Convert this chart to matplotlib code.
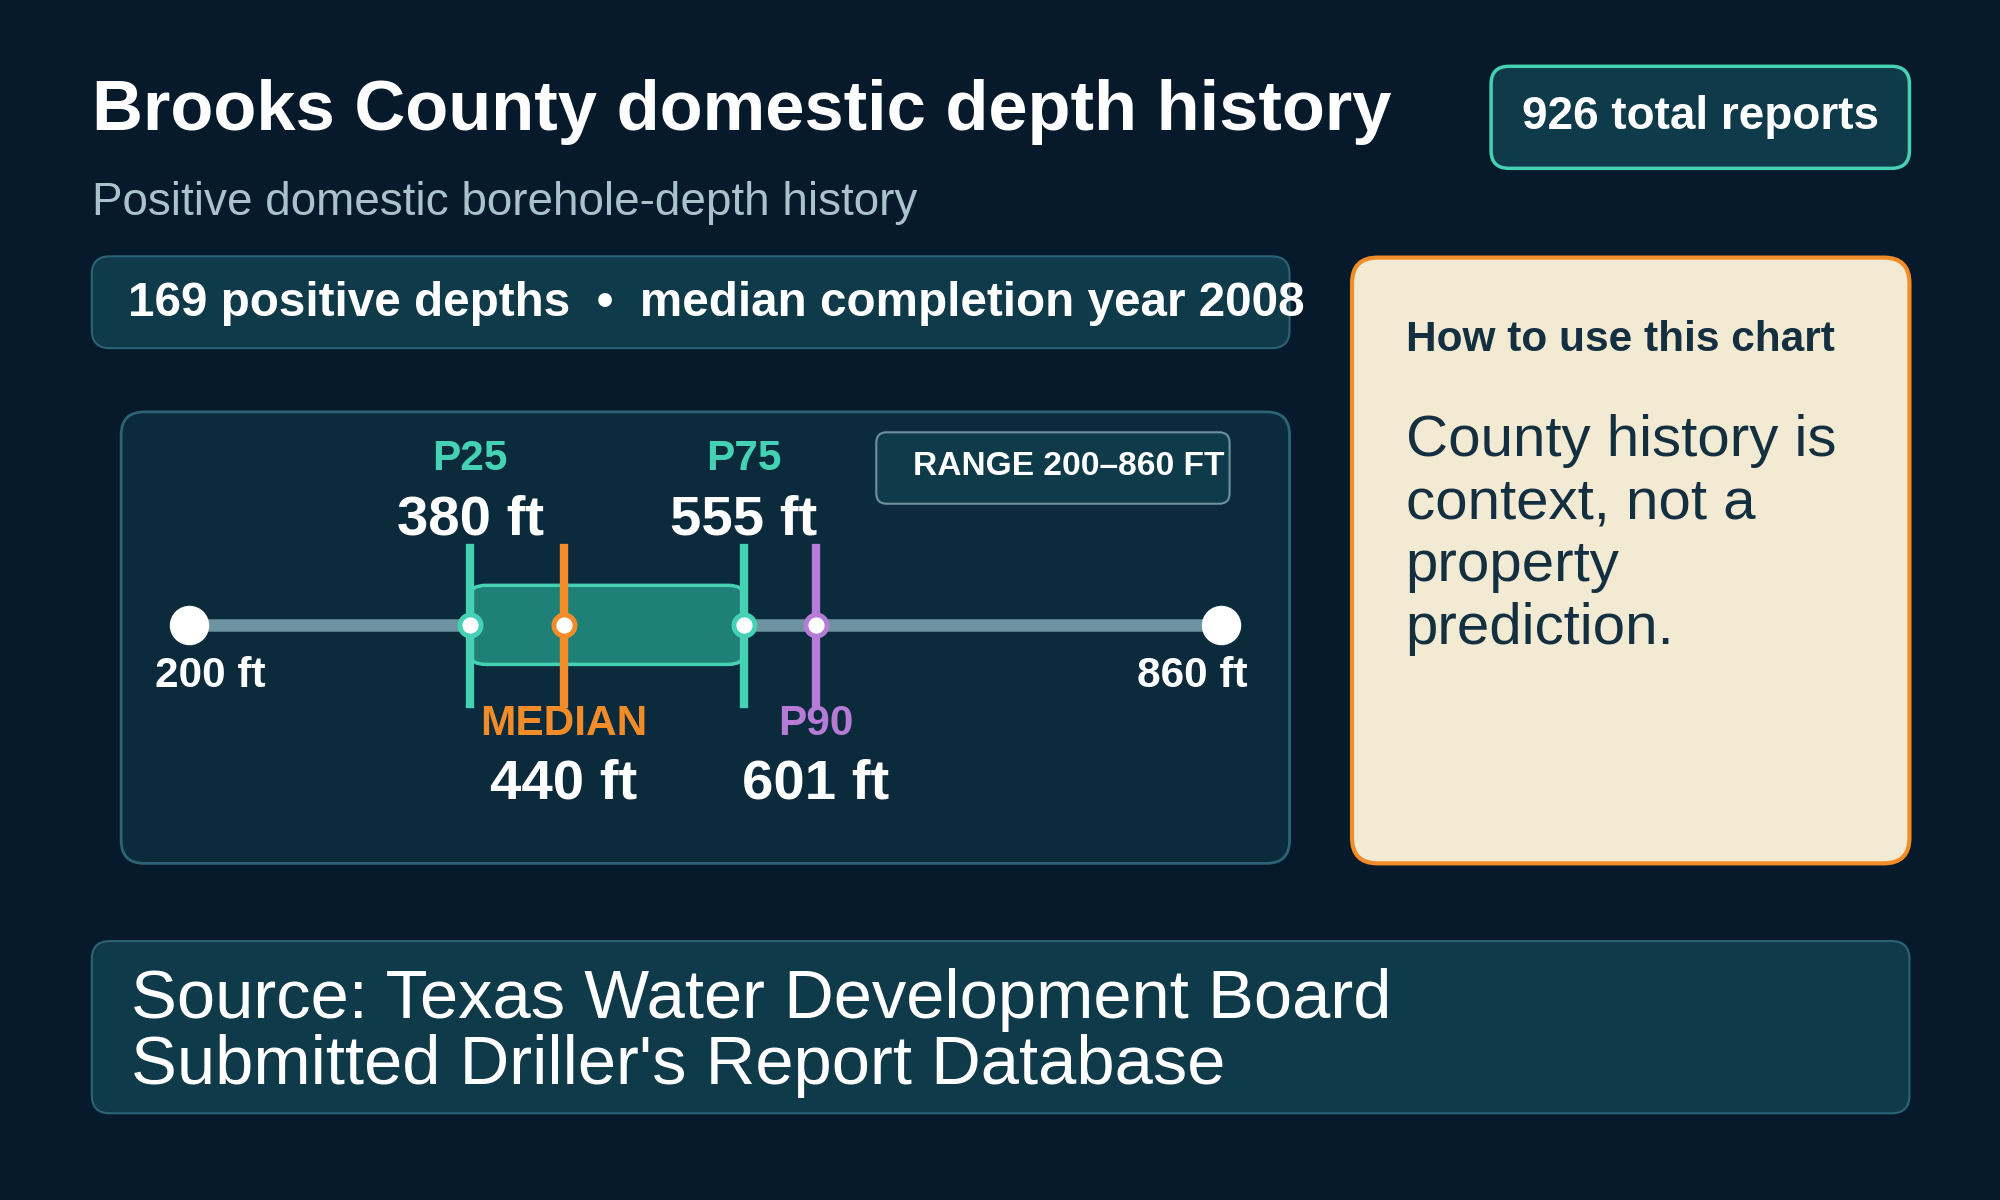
import matplotlib.pyplot as plt
from matplotlib.patches import FancyBboxPatch

plt.rcParams["font.family"] = ["Liberation Sans", "DejaVu Sans"]

# data
title = "Brooks County domestic depth history"
subtitle = "Positive domestic borehole-depth history"
total_reports = 926
n_positive = 169
median_year = 2008
depth_min, depth_max = 200, 860
p25, median, p75, p90 = 380, 440, 555, 601
note_title = "How to use this chart"
note_body = "County history is\ncontext, not a\nproperty\nprediction."
source = "Source: Texas Water Development Board\nSubmitted Driller's Report Database"

BG = "#071a2b"
PANEL = "#0f3a4a"
EDGE = "#2b6474"
TEAL = "#45d1b4"
ORANGE = "#f28c28"
PURPLE = "#b57bd6"
TRACK = "#6d93a1"
W, H = 1568, 941
K = 1.27  # font scale

fig = plt.figure(figsize=(20, 12), dpi=100, facecolor=BG)
ax = fig.add_axes([0, 0, 1, 1])
ax.set_xlim(0, W)
ax.set_ylim(H, 0)
ax.axis("off")


def box(x, y, w, h, fc, ec, lw=1.5, r=14):
    ax.add_patch(FancyBboxPatch((x, y), w, h, boxstyle=f"round,pad=0,rounding_size={r}",
                                fc=fc, ec=ec, lw=lw))


ax.text(72, 88, title, color="white", fontsize=40 * K, fontweight="bold", va="center")
ax.text(72, 159, subtitle, color="#a9c3cc", fontsize=26 * K, va="center")

box(1169, 52, 328, 80, PANEL, TEAL, lw=2.5)
ax.text(1333, 92, f"{total_reports} total reports", color="white", fontsize=26 * K,
        fontweight="bold", ha="center", va="center")

box(72, 201, 939, 72, PANEL, EDGE)
ax.text(100, 238, f"{n_positive} positive depths  \u2022  median completion year {median_year}",
        color="white", fontsize=27 * K, fontweight="bold", va="center")

box(95, 323, 916, 354, "#0b2a3c", EDGE, lw=2, r=18)
box(687, 339, 277, 56, PANEL, "#6d93a1", lw=1.5, r=8)
ax.text(716, 366, f"RANGE {depth_min}\u2013{depth_max} FT", color="white", fontsize=19 * K,
        fontweight="bold", va="center")

# depth scale axes: 200 ft at x=148, 860 ft at x=957
x0 = 148 / W
x1 = 957 / W
dax = fig.add_axes([x0, 0, x1 - x0, 1])
dax.set_xlim(depth_min, depth_max)
dax.set_ylim(H, 0)
dax.axis("off")
dax.patch.set_alpha(0)

yl = 490
dax.plot([depth_min, depth_max], [yl, yl], color=TRACK, lw=9, solid_capstyle="butt", zorder=1)
dax.add_patch(FancyBboxPatch((p25, 459), p75 - p25, 62,
                             boxstyle="round,pad=0,rounding_size=10", mutation_aspect=1 / 1.2,
                             fc="#1f8078", ec=TEAL, lw=2.5, zorder=2))
for v, c in [(p25, TEAL), (median, ORANGE), (p75, TEAL), (p90, PURPLE)]:
    dax.plot([v, v], [430, 552], color=c, lw=6, zorder=3)
    dax.scatter([v], [yl], s=230, color="white", edgecolor=c, linewidth=3.5, zorder=4)
dax.scatter([depth_min, depth_max], [yl, yl], s=750, color="white", zorder=4, clip_on=False)

dax.text(depth_min + 14, 530, f"{depth_min} ft", color="white", fontsize=24 * K, fontweight="bold",
         ha="center", va="center")
dax.text(depth_max - 18, 530, f"{depth_max} ft", color="white", fontsize=24 * K, fontweight="bold",
         ha="center", va="center")
for v, lab, c in [(p25, "P25", TEAL), (p75, "P75", TEAL)]:
    dax.text(v, 360, lab, color=c, fontsize=24 * K, fontweight="bold", ha="center", va="center")
    dax.text(v, 408, f"{v} ft", color="white", fontsize=32 * K, fontweight="bold", ha="center", va="center")
for v, lab, c in [(median, "MEDIAN", ORANGE), (p90, "P90", PURPLE)]:
    dax.text(v, 568, lab, color=c, fontsize=24 * K, fontweight="bold", ha="center", va="center")
    dax.text(v, 615, f"{v} ft", color="white", fontsize=32 * K, fontweight="bold", ha="center", va="center")

box(1060, 202, 437, 475, "#f2ead3", ORANGE, lw=3, r=20)
ax.text(1102, 267, note_title, color="#143040", fontsize=24 * K, fontweight="bold", va="center")
ax.text(1102, 325, note_body, color="#143040", fontsize=33 * K, va="top", linespacing=1.2)

box(72, 738, 1425, 135, PANEL, EDGE)
ax.text(103, 810, source, color="white", fontsize=39 * K, va="center", linespacing=1.05)

fig.savefig("out.png", dpi=100, facecolor=BG)
